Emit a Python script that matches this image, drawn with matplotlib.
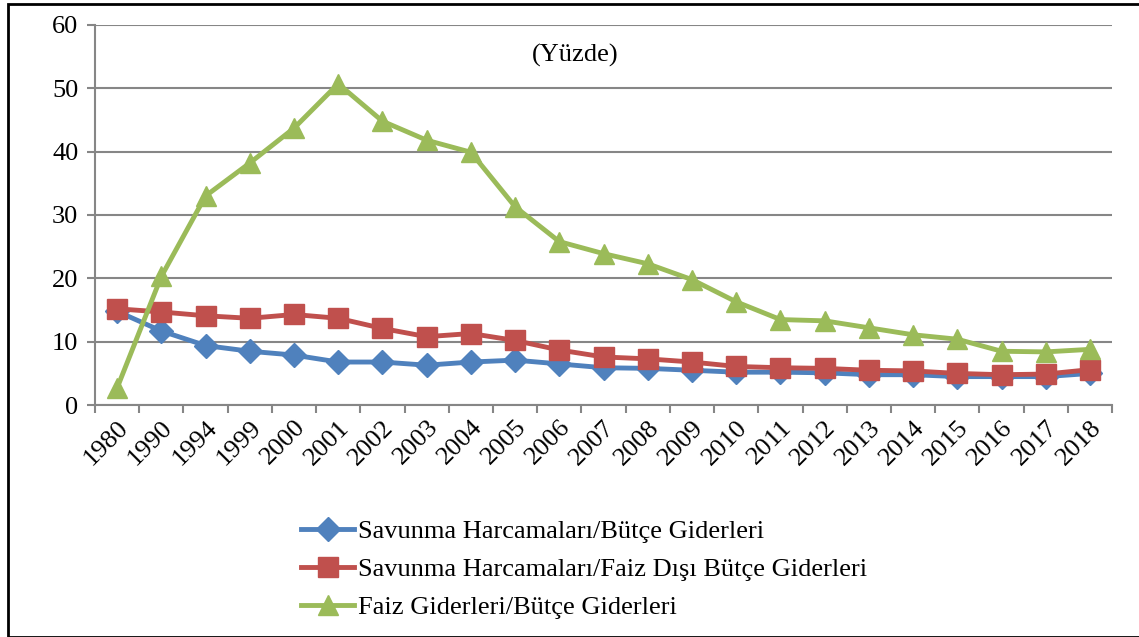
import numpy as np
import matplotlib.pyplot as plt
from matplotlib.patches import Rectangle

# data (percent)
years = ['1980', '1990', '1994', '1999', '2000', '2001', '2002', '2003', '2004', '2005',
         '2006', '2007', '2008', '2009', '2010', '2011', '2012', '2013', '2014', '2015',
         '2016', '2017', '2018']
savunma_butce = [14.8, 11.7, 9.4, 8.5, 7.9, 6.8, 6.8, 6.3, 6.8, 7.1, 6.5, 5.9, 5.8,
                 5.5, 5.2, 5.2, 5.1, 4.8, 4.8, 4.5, 4.5, 4.5, 5.0]
savunma_faiz_disi = [15.2, 14.7, 14.1, 13.7, 14.3, 13.7, 12.1, 10.8, 11.3, 10.2, 8.7, 7.6,
                     7.3, 6.8, 6.1, 5.9, 5.8, 5.5, 5.4, 5.0, 4.8, 4.9, 5.6]
faiz_butce = [2.7, 20.3, 33.0, 38.2, 43.7, 50.7, 44.8, 41.8, 39.9, 31.3, 25.8, 23.9,
              22.3, 19.8, 16.3, 13.5, 13.3, 12.2, 11.1, 10.4, 8.5, 8.4, 8.8]
labels = ['Savunma Harcamaları/Bütçe Giderleri',
          'Savunma Harcamaları/Faiz Dışı Bütçe Giderleri',
          'Faiz Giderleri/Bütçe Giderleri']

plt.rcParams['font.family'] = ['Liberation Serif', 'DejaVu Serif']
fs = 19

fig = plt.figure(figsize=(11.39, 6.37), dpi=100)
ax = fig.add_axes([0.0834, 0.364, 0.893, 0.597])

x = np.arange(len(years))
ax.plot(x, savunma_butce, color='#4F81BD', lw=3.5, marker='D', ms=12, label=labels[0], zorder=3)
ax.plot(x, savunma_faiz_disi, color='#C0504D', lw=3.5, marker='s', ms=14, label=labels[1], zorder=4)
ax.plot(x, faiz_butce, color='#9BBB59', lw=3.5, marker='^', ms=15, label=labels[2], zorder=5)

ax.set_xlim(-0.5, len(years) - 0.5)
ax.set_ylim(0, 60)
ax.set_yticks(range(0, 61, 10))
ax.yaxis.grid(True, color='#868686', lw=1.5)
ax.set_axisbelow(True)

ax.set_xticks(x)
ax.set_xticklabels(years, rotation=45, ha='right', rotation_mode='anchor', fontsize=fs)
ax.set_xticks(np.arange(-0.5, len(years)), minor=True)
ax.tick_params(axis='x', which='major', length=0, pad=8)
ax.tick_params(axis='x', which='minor', length=6, color='#868686', width=1.5)
ax.tick_params(axis='y', length=6, color='#868686', width=1.5, labelsize=fs, pad=6)

for s in ['top', 'right']:
    ax.spines[s].set_visible(False)
for s in ['left', 'bottom']:
    ax.spines[s].set_color('#868686')
    ax.spines[s].set_linewidth(1.5)

ax.text(0.472, 0.92, '(Yüzde)', transform=ax.transAxes, ha='center', va='center', fontsize=fs)

fig.legend(loc='upper left', bbox_to_anchor=(0.253, 0.205), frameon=False, fontsize=fs,
           handlelength=2.0, handletextpad=0.15, labelspacing=0.55, borderpad=0)

fig.add_artist(Rectangle((0.007, 0.0), 1.0, 0.994, transform=fig.transFigure,
                         fill=False, edgecolor='black', lw=2))

fig.savefig('out.png', dpi=100)
